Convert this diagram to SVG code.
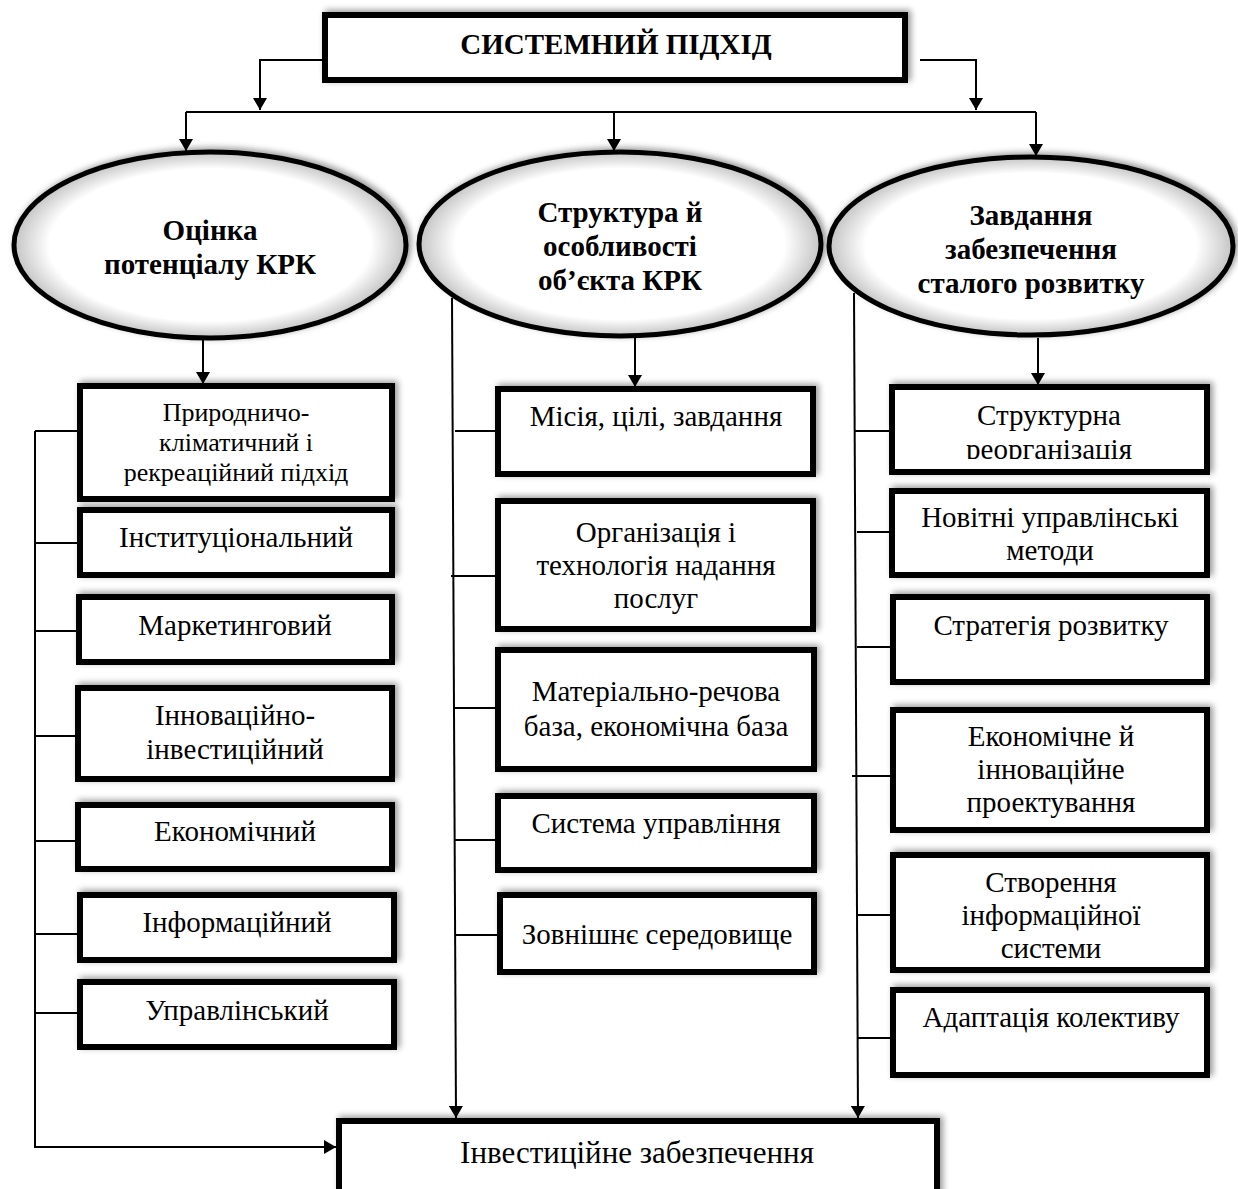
<svg xmlns="http://www.w3.org/2000/svg" width="1238" height="1189" viewBox="0 0 1238 1189">
<defs>
<filter id="sh" x="-10%" y="-20%" width="120%" height="140%">
<feDropShadow dx="3" dy="-2" stdDeviation="3" flood-color="#000" flood-opacity="0.4"/>
</filter>
<radialGradient id="eg" cx="50%" cy="50%" r="50%">
<stop offset="0.82" stop-color="#fff"/>
<stop offset="1" stop-color="#c4c4c4"/>
</radialGradient>
<marker id="ar" markerWidth="12" markerHeight="14" refX="12" refY="7" orient="auto" markerUnits="userSpaceOnUse">
<path d="M0,0 L12,7 L0,14 Z" fill="#000"/>
</marker>
<clipPath id="cR1"><rect x="889" y="384" width="321" height="75"/></clipPath>
</defs>
<style>
.bx{fill:#fff;stroke:#000;stroke-width:6;filter:url(#sh)}
.el{fill:url(#eg);stroke:#000;stroke-width:5;filter:url(#sh)}
.t{font-family:"Liberation Serif","Times New Roman",serif;font-size:29px;fill:#000;text-anchor:middle}
.ts{font-size:26px}
.tb{font-size:31px}
.b{font-weight:bold}
.c{fill:none;stroke:#000;stroke-width:2}
.ca{fill:none;stroke:#000;stroke-width:2;marker-end:url(#ar)}
</style>

<g id="connectors">
<polyline class="ca" points="322,60 260,60 260,110"/>
<polyline class="ca" points="920,60 976,60 976,110"/>
<line class="c" x1="186" y1="112" x2="1036" y2="112"/>
<line class="ca" x1="186" y1="112" x2="186" y2="151"/>
<line class="ca" x1="614" y1="112" x2="614" y2="151"/>
<line class="ca" x1="1036" y1="112" x2="1036" y2="156"/>
<line class="ca" x1="203" y1="340" x2="203" y2="384"/>
<line class="ca" x1="635" y1="338" x2="635" y2="387"/>
<line class="ca" x1="1038" y1="338" x2="1038" y2="385"/>
<polyline class="ca" points="35,431 35,1147 336,1147"/>
<line class="c" x1="35" y1="431" x2="77" y2="431"/>
<line class="c" x1="35" y1="543" x2="77" y2="543"/>
<line class="c" x1="35" y1="631" x2="77" y2="631"/>
<line class="c" x1="35" y1="736" x2="77" y2="736"/>
<line class="c" x1="35" y1="841" x2="77" y2="841"/>
<line class="c" x1="35" y1="934" x2="77" y2="934"/>
<line class="c" x1="35" y1="1013" x2="77" y2="1013"/>
<line class="ca" x1="452" y1="298" x2="456" y2="1118"/>
<line class="c" x1="455" y1="431" x2="495" y2="431"/>
<line class="c" x1="451" y1="576" x2="495" y2="576"/>
<line class="c" x1="455" y1="708" x2="495" y2="708"/>
<line class="c" x1="455" y1="840" x2="495" y2="840"/>
<line class="c" x1="455" y1="935" x2="497" y2="935"/>
<line class="ca" x1="854" y1="293" x2="858" y2="1118"/>
<line class="c" x1="855" y1="431" x2="889" y2="431"/>
<line class="c" x1="857" y1="532" x2="897" y2="532"/>
<line class="c" x1="857" y1="647" x2="897" y2="647"/>
<line class="c" x1="852" y1="776" x2="890" y2="776"/>
<line class="c" x1="857" y1="915" x2="898" y2="915"/>
<line class="c" x1="857" y1="1038" x2="897" y2="1038"/>
</g>

<g id="top">
<rect class="bx" x="325" y="15" width="580" height="65"/>
<text class="t b" x="616" y="54">СИСТЕМНИЙ ПІДХІД</text>
</g>

<g id="e1">
<ellipse class="el" cx="210" cy="245" rx="196" ry="93"/>
<text class="t b" x="210" y="240">Оцінка</text>
<text class="t b" x="210" y="274">потенціалу КРК</text>
</g>
<g id="e2">
<ellipse class="el" cx="620" cy="244" rx="201" ry="92"/>
<text class="t b" x="620" y="222">Структура й</text>
<text class="t b" x="620" y="256">особливості</text>
<text class="t b" x="620" y="290">об’єкта КРК</text>
</g>
<g id="e3">
<ellipse class="el" cx="1031" cy="246" rx="202" ry="89"/>
<text class="t b" x="1031" y="225">Завдання</text>
<text class="t b" x="1031" y="259">забезпечення</text>
<text class="t b" x="1031" y="293">сталого розвитку</text>
</g>

<g id="L1">
<rect class="bx" x="80" y="386" width="312" height="113"/>
<text class="t ts" x="236" y="421">Природничо-</text>
<text class="t ts" x="236" y="451">кліматичний і</text>
<text class="t ts" x="236" y="481">рекреаційний підхід</text>
</g>
<g id="L2">
<rect class="bx" x="80" y="510" width="312" height="65"/>
<text class="t" x="236" y="547">Інституціональний</text>
</g>
<g id="L3">
<rect class="bx" x="79" y="597" width="313" height="65"/>
<text class="t" x="235" y="635">Маркетинговий</text>
</g>
<g id="L4">
<rect class="bx" x="78" y="688" width="314" height="91"/>
<text class="t" x="235" y="725">Інноваційно-</text>
<text class="t" x="235" y="759">інвестиційний</text>
</g>
<g id="L5">
<rect class="bx" x="78" y="805" width="314" height="64"/>
<text class="t" x="235" y="841">Економічний</text>
</g>
<g id="L6">
<rect class="bx" x="80" y="895" width="314" height="65"/>
<text class="t" x="237" y="932">Інформаційний</text>
</g>
<g id="L7">
<rect class="bx" x="80" y="982" width="314" height="65"/>
<text class="t" x="237" y="1020">Управлінський</text>
</g>

<g id="M1">
<rect class="bx" x="498" y="389" width="315" height="85"/>
<text class="t" x="656" y="426">Місія, цілі, завдання</text>
</g>
<g id="M2">
<rect class="bx" x="498" y="501" width="315" height="128"/>
<text class="t" x="656" y="542">Організація і</text>
<text class="t" x="656" y="575">технологія надання</text>
<text class="t" x="656" y="608">послуг</text>
</g>
<g id="M3">
<rect class="bx" x="498" y="650" width="316" height="119"/>
<text class="t" x="656" y="701">Матеріально-речова</text>
<text class="t" x="656" y="736">база, економічна база</text>
</g>
<g id="M4">
<rect class="bx" x="498" y="796" width="316" height="74"/>
<text class="t" x="656" y="833">Система управління</text>
</g>
<g id="M5">
<rect class="bx" x="500" y="895" width="314" height="77"/>
<text class="t" x="657" y="944">Зовнішнє середовище</text>
</g>

<g id="R1">
<rect class="bx" x="892" y="387" width="315" height="85"/>
<text class="t" x="1049" y="425">Структурна</text>
<text class="t" x="1049" y="459" clip-path="url(#cR1)">реорганізація</text>
</g>
<g id="R2">
<rect class="bx" x="892" y="491" width="315" height="84"/>
<text class="t" x="1050" y="527">Новітні управлінські</text>
<text class="t" x="1050" y="560">методи</text>
</g>
<g id="R3">
<rect class="bx" x="893" y="597" width="314" height="85"/>
<text class="t" x="1051" y="635">Стратегія розвитку</text>
</g>
<g id="R4">
<rect class="bx" x="893" y="710" width="314" height="120"/>
<text class="t" x="1051" y="746">Економічне й</text>
<text class="t" x="1051" y="779">інноваційне</text>
<text class="t" x="1051" y="812">проектування</text>
</g>
<g id="R5">
<rect class="bx" x="893" y="855" width="314" height="115"/>
<text class="t" x="1051" y="892">Створення</text>
<text class="t" x="1051" y="925">інформаційної</text>
<text class="t" x="1051" y="958">системи</text>
</g>
<g id="R6">
<rect class="bx" x="893" y="990" width="314" height="85"/>
<text class="t" x="1051" y="1027">Адаптація колективу</text>
</g>

<g id="bottom">
<rect class="bx" x="339" y="1121" width="598" height="75"/>
<text class="t tb" x="637" y="1163">Інвестиційне забезпечення</text>
</g>
</svg>
